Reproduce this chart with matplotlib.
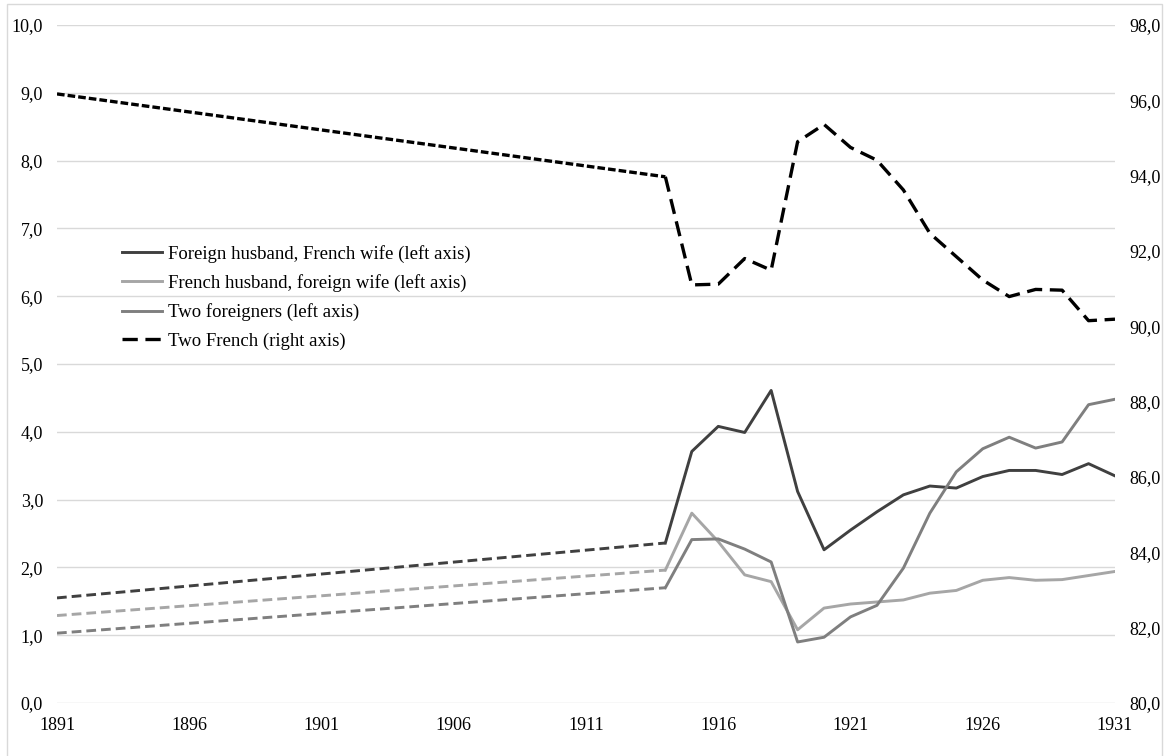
import matplotlib.pyplot as plt
from matplotlib.lines import Line2D
from matplotlib.patches import Rectangle
from matplotlib.ticker import FuncFormatter

plt.rcParams['font.family'] = ['Liberation Serif', 'DejaVu Serif']
plt.rcParams['lines.scale_dashes'] = False

# first point is 1891, then yearly 1914-1931
years = [1891] + list(range(1914, 1932))

foreign_husband = [1.55, 2.36, 3.71, 4.08, 3.99, 4.61, 3.12, 2.26, 2.55, 2.82,
                   3.07, 3.20, 3.17, 3.34, 3.43, 3.43, 3.37, 3.53, 3.35]
french_husband = [1.29, 1.96, 2.80, 2.38, 1.89, 1.79, 1.08, 1.40, 1.46, 1.49,
                  1.52, 1.62, 1.66, 1.81, 1.85, 1.81, 1.82, 1.88, 1.94]
two_foreigners = [1.03, 1.70, 2.41, 2.42, 2.27, 2.08, 0.90, 0.97, 1.27, 1.44,
                  1.99, 2.80, 3.41, 3.75, 3.92, 3.76, 3.85, 4.40, 4.48]
two_french = [96.17, 93.97, 91.10, 91.12, 91.80, 91.49, 94.90, 95.36, 94.75, 94.41,
              93.62, 92.47, 91.85, 91.23, 90.79, 90.98, 90.96, 90.15, 90.19]

labels = ["Foreign husband, French wife (left axis)",
          "French husband, foreign wife (left axis)",
          "Two foreigners (left axis)",
          "Two French (right axis)"]
colors = ["#404040", "#a6a6a6", "#7f7f7f", "#000000"]

fig = plt.figure(figsize=(11.71, 7.56), dpi=100)
ax = fig.add_axes([57 / 1171, 1 - 703 / 756, (1115 - 57) / 1171, (703 - 25) / 756])
ax2 = ax.twinx()

lw = 2.1
left_dash = (0, (7, 3.6))
for vals, c in zip([foreign_husband, french_husband, two_foreigners], colors[:3]):
    ax.plot(years[:2], vals[:2], color=c, lw=lw, linestyle=left_dash, zorder=3)
    ax.plot(years[1:], vals[1:], color=c, lw=lw, zorder=3)

ax2.plot(years[:2], two_french[:2], color="black", lw=2.4, linestyle=(0, (5.5, 2.2)))
ax2.plot(years[1:], two_french[1:], color="black", lw=2.4, linestyle=(0, (11, 5.5)))

ax.set_xlim(1891, 1931)
ax.set_ylim(0, 10)
ax2.set_ylim(80, 98)
ax.set_xticks(range(1891, 1932, 5))
ax.set_yticks(range(0, 11))
ax2.set_yticks(range(80, 99, 2))

comma = FuncFormatter(lambda v, p: f"{v:.1f}".replace(".", ","))
ax.yaxis.set_major_formatter(comma)
ax2.yaxis.set_major_formatter(comma)

ax.grid(axis="y", color="#d9d9d9", lw=1.0)
ax.set_axisbelow(True)
for a in (ax, ax2):
    for s in a.spines.values():
        s.set_visible(False)
ax.tick_params(axis="y", length=0, pad=10, labelsize=13)
ax.tick_params(axis="x", length=0, pad=10, labelsize=13)
ax2.tick_params(axis="y", length=0, pad=10, labelsize=13)

handles = [Line2D([], [], color=colors[0], lw=lw),
           Line2D([], [], color=colors[1], lw=lw),
           Line2D([], [], color=colors[2], lw=lw),
           Line2D([], [], color="black", lw=2.4, linestyle=(0, (11, 5.5)))]
fig.legend(handles, labels, loc="upper left",
           bbox_to_anchor=(105 / 1171, 1 - 228 / 756), bbox_transform=fig.transFigure,
           frameon=False, fontsize=13.5, handlelength=2.13, handletextpad=0.32,
           labelspacing=0.6)

fig.patches.append(Rectangle((7 / 1171, -0.05), (1162 - 7) / 1171, 1.05 - 4 / 756,
                             transform=fig.transFigure, fill=False,
                             edgecolor="#d9d9d9", lw=1))

fig.savefig("out.png", dpi=100)
